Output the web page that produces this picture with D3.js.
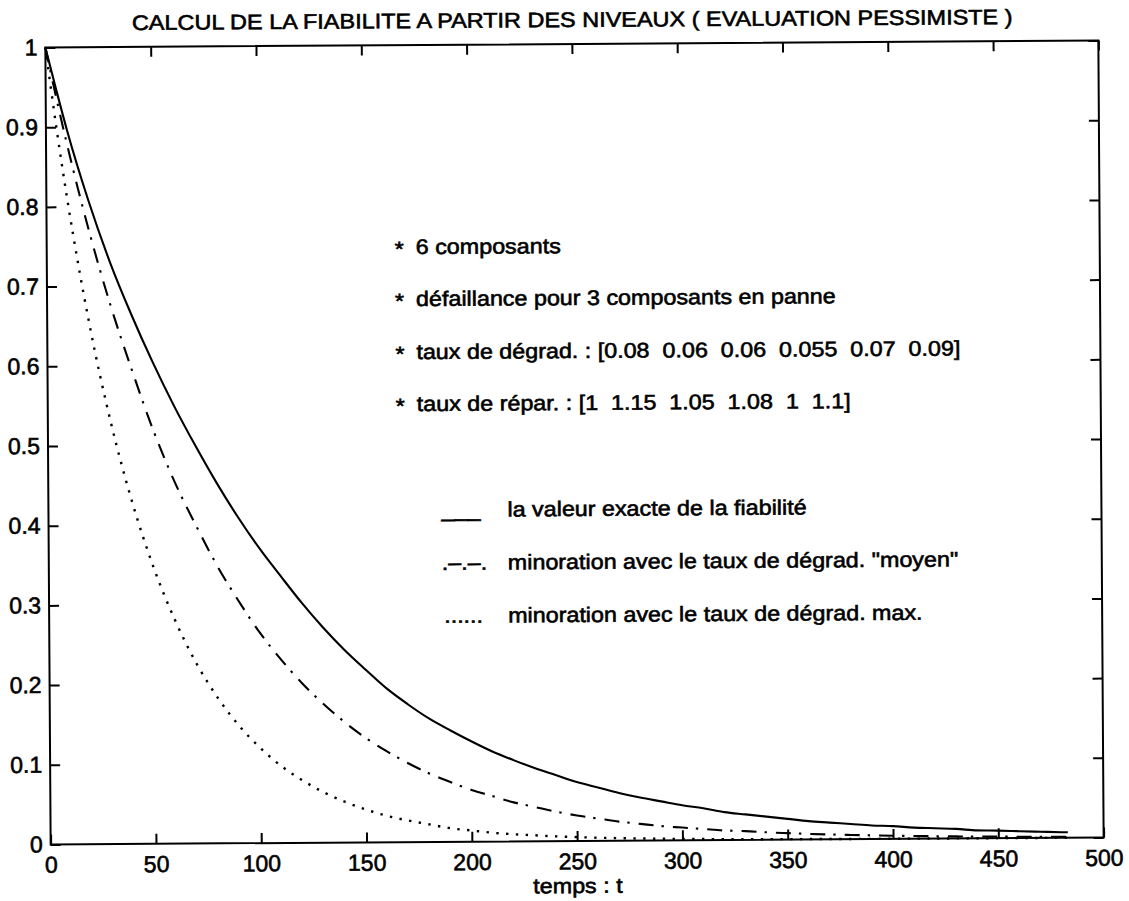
<!DOCTYPE html>
<html>
<head>
<meta charset="utf-8">
<script src="https://cdn.jsdelivr.net/npm/d3@7"></script>
<style>
  html, body { margin: 0; padding: 0; background: #fff; }
  svg { display: block; }
  text { font-family: "Liberation Sans", Arial, Helvetica, sans-serif; fill: #000; stroke: #000; stroke-width: 0.6px; }
</style>
</head>
<body>
<svg id="chart" width="1129" height="901"></svg>
<script>
// ---- data ----
const times = [0, 5, 10, 20, 30, 40, 50, 60, 70, 80, 90, 100, 110, 120, 130, 140, 150, 160, 170, 180, 190,
  200, 210, 220, 230, 240, 250, 260, 270, 280, 290, 300, 310, 320, 330, 340, 350, 360, 370, 380, 390,
  400, 410, 420, 430, 440, 450, 460, 470, 480, 483];

// la valeur exacte de la fiabilité (solid)
const exactValues = [1, 0.947, 0.896, 0.807, 0.730, 0.664, 0.604, 0.549, 0.499, 0.452, 0.409, 0.370, 0.335,
  0.301, 0.270, 0.242, 0.217, 0.193, 0.173, 0.155, 0.140, 0.126, 0.113, 0.102, 0.092, 0.083, 0.074, 0.067,
  0.060, 0.054, 0.049, 0.044, 0.040, 0.035, 0.032, 0.029, 0.026, 0.023, 0.021, 0.019, 0.017, 0.016, 0.014,
  0.013, 0.012, 0.010, 0.0095, 0.0086, 0.0078, 0.0070, 0.0068];

// minoration avec le taux de dégrad. "moyen" (dash-dot)
const moyenValues = [1, 0.937, 0.878, 0.771, 0.677, 0.595, 0.519, 0.454, 0.399, 0.348, 0.304, 0.264, 0.230,
  0.200, 0.174, 0.151, 0.131, 0.114, 0.099, 0.086, 0.075, 0.065, 0.057, 0.049, 0.043, 0.037, 0.032, 0.028,
  0.024, 0.021, 0.018, 0.016, 0.014, 0.012, 0.011, 0.0093, 0.0081, 0.0070, 0.0061, 0.0053, 0.0046, 0.0040,
  0.0035, 0.0030, 0.0026, 0.0023, 0.0020, 0.0017, 0.0015, 0.0013, 0.0012];

// minoration avec le taux de dégrad. max. (dotted)
const maxValues = [1, 0.899, 0.808, 0.653, 0.528, 0.427, 0.345, 0.279, 0.225, 0.182, 0.147, 0.119, 0.096,
  0.078, 0.063, 0.051, 0.041, 0.033, 0.027, 0.022, 0.017, 0.014, 0.011, 0.009, 0.0075, 0.006, 0.0049, 0.0039,
  0.0032, 0.0026, 0.0021, 0.0017, 0.0014, 0.0011, 0.0009, 0.0007, 0.0006, 0.0005, 0.0004, 0.0003, 0.0002,
  0.0002, 0.0002, 0.0001, 0.0001, 0.0001, 0.0001, 0.0001, 0, 0, 0];

const xTicks = [0, 50, 100, 150, 200, 250, 300, 350, 400, 450, 500];
const xTickLabels = ["0", "50", "100", "150", "200", "250", "300", "350", "400", "450", "500"];
const yTicks = [0, 0.1, 0.2, 0.3, 0.4, 0.5, 0.6, 0.7, 0.8, 0.9, 1];
const yTickLabels = ["0", "0.1", "0.2", "0.3", "0.4", "0.5", "0.6", "0.7", "0.8", "0.9", "1"];

const titleText = "CALCUL DE LA FIABILITE A PARTIR DES NIVEAUX ( EVALUATION PESSIMISTE )";
const xLabelText = "temps : t";
const notes = ["6 composants",
  "défaillance pour 3 composants en panne",
  "taux de dégrad. : [0.08  0.06  0.06  0.055  0.07  0.09]",
  "taux de répar. : [1  1.15  1.05  1.08  1  1.1]"];
const legendSymbols = ["___", ".\u2013.\u2013.", "......"];
const legendLabels = ["la valeur exacte de la fiabilité",
  "minoration avec le taux de dégrad. \"moyen\"",
  "minoration avec le taux de dégrad. max."];

// ---- layout ----
const L = 48, R = 1101, T = 44, B = 841;
const svg = d3.select("#chart");
const root = svg.append("g").attr("transform", "rotate(-0.38, 575, 442)");

const x = d3.scaleLinear().domain([0, 500]).range([L, R]);
const y = d3.scaleLinear().domain([0, 1]).range([B, T]);

function txt(str, px, py, anchor, size, sx) {
  return root.append("text")
    .attr("transform", `translate(${px},${py}) scale(${sx},1)`)
    .attr("text-anchor", anchor)
    .style("font-size", size + "px")
    .style("white-space", "pre")
    .text(str);
}

// curves
const line = (vals) => d3.line()
  .x((d, i) => x(times[i]))
  .y((d) => y(d))
  .curve(d3.curveMonotoneX)(vals);

root.append("path").attr("d", line(maxValues))
  .attr("fill", "none").attr("stroke", "#000").attr("stroke-width", 2.4)
  .attr("stroke-dasharray", "2.4,7.4");
root.append("path").attr("d", line(moyenValues))
  .attr("fill", "none").attr("stroke", "#000").attr("stroke-width", 2.1)
  .attr("stroke-dasharray", "15,8,2.4,9");
root.append("path").attr("d", line(exactValues))
  .attr("fill", "none").attr("stroke", "#000").attr("stroke-width", 2.1);

// axes (inward ticks on all four sides)
function styleAxis(g) {
  g.selectAll(".domain").remove();
  g.selectAll(".tick line").attr("stroke", "#000").attr("stroke-width", 2);
  g.selectAll(".tick text").attr("fill", "#000").style("font-size", "23px")
    .style("font-family", "\"Liberation Sans\", Arial, Helvetica, sans-serif");
}
root.append("g").attr("transform", `translate(0,${B})`)
  .call(d3.axisBottom(x).tickValues(xTicks).tickFormat((d, i) => xTickLabels[i]).tickSize(-10).tickPadding(12))
  .call(styleAxis);
root.append("g").attr("transform", `translate(0,${T})`)
  .call(d3.axisTop(x).tickValues(xTicks).tickFormat("").tickSize(-10))
  .call(styleAxis);
root.append("g").attr("transform", `translate(${L},0)`)
  .call(d3.axisLeft(y).tickValues(yTicks).tickFormat((d, i) => yTickLabels[i]).tickSize(-10).tickPadding(8))
  .call(styleAxis);
root.append("g").attr("transform", `translate(${R},0)`)
  .call(d3.axisRight(y).tickValues(yTicks).tickFormat("").tickSize(-10))
  .call(styleAxis);

root.append("rect").attr("x", L).attr("y", T).attr("width", R - L).attr("height", B - T)
  .attr("fill", "none").attr("stroke", "#000").attr("stroke-width", 2);

// title and axis label
txt(titleText, 575, 27, "middle", 21, 1.117);
txt(xLabelText, 575, 893, "middle", 21, 1.11);

// notes
const noteY = [253, 305, 358, 410];
notes.forEach((n, i) => {
  txt("*", 396, noteY[i] + 2, "start", 21, 1.11);
  txt(n, 417, noteY[i], "start", 21, 1.11);
});

// legend
const legY = [516, 569, 622];
const legSymX = [441, 441, 443];
legendSymbols.forEach((s, i) => {
  txt(s, legSymX[i], legY[i], "start", 21, 1.11);
  txt(legendLabels[i], 507, legY[i], "start", 21, 1.11);
});
</script>
</body>
</html>
